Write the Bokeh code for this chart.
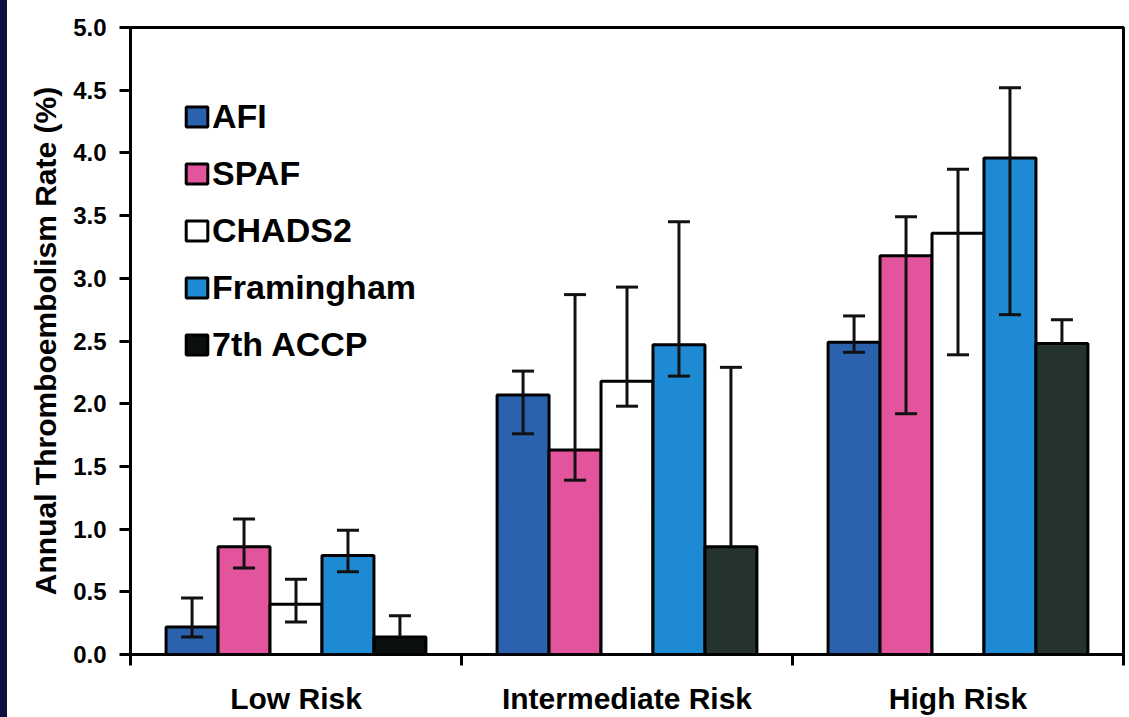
from bokeh.plotting import figure
from bokeh.models import (Range1d, FixedTicker, Legend, LegendItem, Whisker, TeeHead,
                          ColumnDataSource, Div)
from bokeh.transform import dodge
from bokeh.layouts import row
from bokeh.embed import file_html
from bokeh.resources import INLINE

# ---------------- data ----------------
categories = ["Low Risk", "Intermediate Risk", "High Risk"]
cat_pos = [0.5, 1.5, 2.5]
series = ["AFI", "SPAF", "CHADS2", "Framingham", "7th ACCP"]

afi = [0.22, 2.07, 2.49]
afi_lo = [0.14, 1.76, 2.41]
afi_hi = [0.45, 2.26, 2.70]

spaf = [0.86, 1.63, 3.18]
spaf_lo = [0.69, 1.39, 1.92]
spaf_hi = [1.08, 2.87, 3.49]

chads2 = [0.40, 2.18, 3.36]
chads2_lo = [0.26, 1.98, 2.39]
chads2_hi = [0.60, 2.93, 3.87]

fram = [0.79, 2.47, 3.96]
fram_lo = [0.66, 2.22, 2.71]
fram_hi = [0.99, 3.45, 4.52]

accp = [0.14, 0.86, 2.48]
accp_lo = [0.14, 0.86, 2.48]   # lower bound hidden by the bar
accp_hi = [0.31, 2.29, 2.67]

y_ticks = [0.0, 0.5, 1.0, 1.5, 2.0, 2.5, 3.0, 3.5, 4.0, 4.5, 5.0]
y_title = "Annual Thromboembolism Rate (%)"

colors = {
    "AFI": ["#2b62ad"] * 3,
    "SPAF": ["#e2559c"] * 3,
    "CHADS2": ["#ffffff"] * 3,
    "Framingham": ["#1e8ad4"] * 3,
    "7th ACCP": ["#0b0f0d", "#24332e", "#24332e"],
}
values = {"AFI": (afi, afi_lo, afi_hi), "SPAF": (spaf, spaf_lo, spaf_hi),
          "CHADS2": (chads2, chads2_lo, chads2_hi), "Framingham": (fram, fram_lo, fram_hi),
          "7th ACCP": (accp, accp_lo, accp_hi)}

FONT = "Liberation Sans"
bar_w = 0.157

p = figure(frame_width=993, frame_height=627, output_backend="svg", toolbar_location=None,
           x_range=Range1d(0, 3), y_range=Range1d(0, 5),
           min_border_left=123, min_border_right=6, min_border_top=27, min_border_bottom=63,
           background_fill_color="white", border_fill_color="white")
p.grid.visible = False
p.outline_line_color = "black"
p.outline_line_width = 3

items = []
for i, name in enumerate(series):
    v, lo, hi = values[name]
    src = ColumnDataSource(dict(x=cat_pos, top=v, lower=lo, upper=hi, color=colors[name]))
    off = (i - 2) * bar_w
    r = p.vbar(x=dodge("x", off, range=p.x_range), top="top", bottom=0, width=bar_w,
               source=src, fill_color="color", line_color="black", line_width=3)
    items.append(LegendItem(label=name, renderers=[r]))
    lower_head = None if name == "7th ACCP" else TeeHead(size=22, line_width=3, line_color="#111111")
    w = Whisker(base=dodge("x", off, range=p.x_range), lower="lower", upper="upper", source=src,
                line_width=3, line_color="#111111", level="overlay",
                upper_head=TeeHead(size=22, line_width=3, line_color="#111111"),
                lower_head=lower_head)
    p.add_layout(w)

legend = Legend(items=items, location=(53, 290), padding=0, margin=0,
                glyph_width=27, glyph_height=25, label_height=32, spacing=18,
                label_standoff=2, background_fill_alpha=0, border_line_color=None,
                label_text_font=FONT, label_text_font_style="bold",
                label_text_font_size="34px", label_text_color="black")
p.add_layout(legend)

# y axis
p.yaxis.ticker = FixedTicker(ticks=y_ticks)
p.yaxis.major_label_overrides = {t: f"{t:.1f}" for t in y_ticks}
p.yaxis.axis_label = y_title
p.yaxis.axis_label_text_font = FONT
p.yaxis.axis_label_text_font_style = "bold"
p.yaxis.axis_label_text_font_size = "30px"
p.yaxis.axis_label_text_color = "black"
p.yaxis.axis_label_standoff = 8
p.yaxis.major_label_text_font = FONT
p.yaxis.major_label_text_font_style = "bold"
p.yaxis.major_label_text_font_size = "24px"
p.yaxis.major_label_text_color = "black"
p.yaxis.major_label_standoff = 13
p.yaxis.major_tick_out = 11
p.yaxis.major_tick_in = 0
p.yaxis.minor_tick_line_color = None
p.yaxis.axis_line_width = 3
p.yaxis.major_tick_line_width = 3

# x axis: labels at category centres, ticks at category boundaries
p.xaxis.ticker = FixedTicker(ticks=cat_pos, minor_ticks=[0, 1, 2, 3])
p.xaxis.major_label_overrides = {c: n for c, n in zip(cat_pos, categories)}
p.xaxis.major_tick_line_color = None
p.xaxis.major_tick_out = 11
p.xaxis.major_tick_in = 0
p.xaxis.minor_tick_out = 11
p.xaxis.minor_tick_in = 0
p.xaxis.minor_tick_line_width = 3
p.xaxis.minor_tick_line_color = "black"
p.xaxis.major_label_standoff = 16
p.xaxis.major_label_text_font = FONT
p.xaxis.major_label_text_font_style = "bold"
p.xaxis.major_label_text_font_size = "30px"
p.xaxis.major_label_text_color = "black"
p.xaxis.axis_line_width = 3

strip = Div(width=7, height=717, margin=0, styles={"background-color": "#0d0f3f"})
layout = row(strip, p, spacing=0)

open("out.html", "w").write(file_html(layout, INLINE))
